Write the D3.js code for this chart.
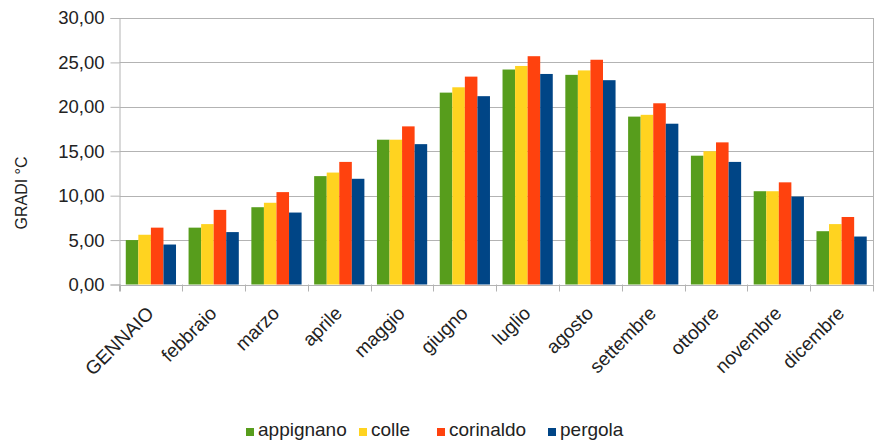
<!DOCTYPE html>
<html>
<head>
<meta charset="utf-8">
<script src="https://cdn.jsdelivr.net/npm/d3@7"></script>
<style>
  html, body { margin: 0; padding: 0; background: #fff; }
  svg { display: block; font-family: "Liberation Sans", Arial, sans-serif; }
</style>
</head>
<body>
<svg id="chart" width="877" height="445"></svg>
<script>
// Monthly mean temperatures (°C) for four stations
const months = ["GENNAIO", "febbraio", "marzo", "aprile", "maggio", "giugno",
                "luglio", "agosto", "settembre", "ottobre", "novembre", "dicembre"];
const stations = ["appignano", "colle", "corinaldo", "pergola"];
const appignano = [5.0, 6.4, 8.7, 12.2, 16.3, 21.6, 24.2, 23.6, 18.9, 14.5, 10.5, 6.0];
const colle     = [5.6, 6.8, 9.2, 12.6, 16.3, 22.2, 24.6, 24.1, 19.1, 15.0, 10.5, 6.8];
const corinaldo = [6.4, 8.4, 10.4, 13.8, 17.8, 23.4, 25.7, 25.3, 20.4, 16.0, 11.5, 7.6];
const pergola   = [4.5, 5.9, 8.1, 11.9, 15.8, 21.2, 23.7, 23.0, 18.1, 13.8, 9.9, 5.4];
const yTicks = [0, 5, 10, 15, 20, 25, 30];
const colors = ["#579d1c", "#ffd320", "#ff420e", "#004586"];

const seriesValues = [appignano, colle, corinaldo, pergola];
const rows = months.map((m, i) => ({
  month: m,
  values: stations.map((s, j) => ({ key: s, value: seriesValues[j][i] }))
}));

const svg = d3.select("#chart");
const plot = { left: 119.5, right: 873, top: 18, bottom: 284.5 };

const itFmt = d3.formatLocale({ decimal: ",", thousands: ".", grouping: [3], currency: ["", "€"] })
  .format(".2f");

const x0 = d3.scaleBand().domain(months).range([plot.left, plot.right])
  .paddingInner(0.2).paddingOuter(0.1);
const x1 = d3.scaleBand().domain(stations).range([0, x0.bandwidth()]);
const y = d3.scaleLinear().domain([0, 30]).range([plot.bottom, plot.top]);
const color = d3.scaleOrdinal().domain(stations).range(colors);

// horizontal gridlines
svg.append("g").selectAll("line").data(yTicks).join("line")
  .attr("x1", plot.left).attr("x2", plot.right)
  .attr("y1", d => Math.round(y(d)) + 0.5).attr("y2", d => Math.round(y(d)) + 0.5)
  .attr("stroke", "#b3b3b3").attr("stroke-width", 1);

// right wall border
svg.append("line")
  .attr("x1", plot.right + 0.5).attr("x2", plot.right + 0.5)
  .attr("y1", plot.top).attr("y2", plot.bottom)
  .attr("stroke", "#b3b3b3");

// bars
svg.append("g").selectAll("g").data(rows).join("g")
  .attr("transform", d => `translate(${x0(d.month)},0)`)
  .selectAll("rect").data(d => d.values).join("rect")
  .attr("x", d => x1(d.key))
  .attr("width", x1.bandwidth())
  .attr("y", d => y(d.value))
  .attr("height", d => y(0) - y(d.value))
  .attr("fill", d => color(d.key));

// y axis
const yAxis = d3.axisLeft(y).tickValues(yTicks).tickFormat(itFmt).tickSize(9).tickPadding(6);
const gy = svg.append("g").attr("transform", `translate(${plot.left},0)`).call(yAxis);
gy.select(".domain").attr("stroke", "#b3b3b3");
gy.selectAll(".tick line").attr("stroke", "#b3b3b3");
gy.selectAll(".tick text").attr("font-size", 18.5).attr("fill", "#222")
  .attr("font-family", "'Liberation Sans', Arial, sans-serif");
// extend the vertical axis below the baseline
svg.append("line")
  .attr("x1", plot.left).attr("x2", plot.left)
  .attr("y1", plot.bottom).attr("y2", plot.bottom + 7)
  .attr("stroke", "#b3b3b3");

// x axis: category boundary ticks
const step = x0.step();
const boundaries = d3.range(months.length + 1).map(i => plot.left + i * step);
svg.append("g").selectAll("line").data(boundaries).join("line")
  .attr("x1", d => Math.round(d) + 0.5).attr("x2", d => Math.round(d) + 0.5)
  .attr("y1", plot.bottom).attr("y2", plot.bottom + 7)
  .attr("stroke", "#b3b3b3");

// rotated month labels
svg.append("g").selectAll("text").data(months).join("text")
  .attr("transform", d => `translate(${x0(d) + x0.bandwidth() / 2 + 4},${plot.bottom + 30}) rotate(-45)`)
  .attr("text-anchor", "end")
  .attr("font-size", 19)
  .attr("fill", "#222")
  .text(d => d);

// y axis title
svg.append("text")
  .attr("transform", "translate(27,193) rotate(-90)")
  .attr("text-anchor", "middle")
  .attr("font-size", 16)
  .attr("fill", "#222")
  .text("GRADI °C");

// legend
const legendX = [246, 359, 437, 548];
const legend = svg.append("g").selectAll("g").data(stations).join("g")
  .attr("transform", (d, i) => `translate(${legendX[i]},428)`);
legend.append("rect").attr("width", 8).attr("height", 8).attr("fill", d => color(d));
legend.append("text").attr("x", 12).attr("y", 8)
  .attr("font-size", 19).attr("fill", "#222").text(d => d);
</script>
</body>
</html>
